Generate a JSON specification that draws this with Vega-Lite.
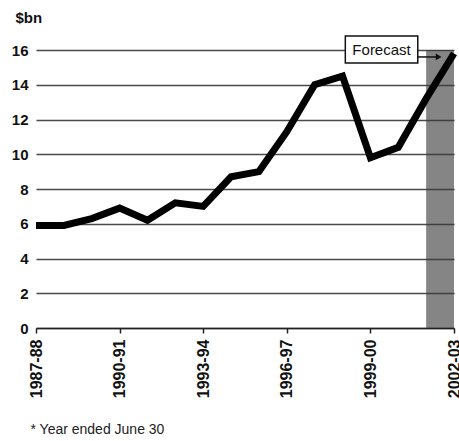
{
  "$schema": "https://vega.github.io/schema/vega-lite/v6.json",
  "autosize": "none",
  "width": 418,
  "height": 278,
  "padding": {"left": 36, "top": 50, "right": 5, "bottom": 113},
  "background": "#ffffff",
  "config": {
    "view": {"stroke": null},
    "font": "Liberation Sans, Arial, sans-serif"
  },
  "datasets": {
    "revenue": [
      {"year": 1987, "value": 5.9},
      {"year": 1988, "value": 5.9},
      {"year": 1989, "value": 6.3},
      {"year": 1990, "value": 6.9},
      {"year": 1991, "value": 6.2},
      {"year": 1992, "value": 7.2},
      {"year": 1993, "value": 7.0},
      {"year": 1994, "value": 8.7},
      {"year": 1995, "value": 9.0},
      {"year": 1996, "value": 11.3},
      {"year": 1997, "value": 14.0},
      {"year": 1998, "value": 14.5},
      {"year": 1999, "value": 9.8},
      {"year": 2000, "value": 10.4},
      {"year": 2001, "value": 13.2},
      {"year": 2002, "value": 15.8}
    ],
    "forecast": [{"start": 2001, "end": 2002, "low": 0, "high": 16}],
    "note": [{"x1": 1998.1, "x2": 2000.7, "y1": 15.25, "y2": 16.8, "tx": 1999.4, "ty": 15.98, "ax1": 2000.7, "ax2": 2001.45, "ay": 15.6, "label": "Forecast"}]
  },
  "encoding": {
    "x": {
      "type": "quantitative",
      "scale": {"domain": [1987, 2002], "nice": false, "zero": false},
      "axis": {
        "values": [1987, 1990, 1993, 1996, 1999, 2002],
        "labelExpr": "datum.value + '-' + slice(toString(datum.value + 1), 2)",
        "labelAngle": -90,
        "labelFont": "Liberation Sans, Arial, sans-serif",
        "labelFontWeight": "bold",
        "labelFontSize": 16,
        "labelColor": "#111",
        "labelPadding": 6,
        "labelOverlap": false,
        "labelBound": false,
        "grid": false,
        "domainColor": "#222",
        "domainWidth": 1.5,
        "tickColor": "#222",
        "tickWidth": 1.5,
        "tickSize": 5,
        "title": "* Year ended June 30",
        "titleFont": "Liberation Sans, Arial, sans-serif",
        "titleFontWeight": "normal",
        "titleFontSize": 14,
        "titleColor": "#222",
        "titleAlign": "left",
        "titleBaseline": "alphabetic",
        "titleX": -6,
        "titleY": 105
      }
    },
    "y": {
      "type": "quantitative",
      "scale": {"domain": [0, 16], "nice": false},
      "axis": {
        "values": [0, 2, 4, 6, 8, 10, 12, 14, 16],
        "grid": true,
        "gridColor": "#4a4a4a",
        "gridWidth": 1.3,
        "domain": false,
        "ticks": false,
        "labelOverlap": false,
        "labelFont": "Liberation Sans, Arial, sans-serif",
        "labelFontWeight": "bold",
        "labelFontSize": 15,
        "labelColor": "#111",
        "labelPadding": 8,
        "title": "$bn",
        "titleAngle": 0,
        "titleFont": "Liberation Sans, Arial, sans-serif",
        "titleFontWeight": "bold",
        "titleFontSize": 15,
        "titleColor": "#111",
        "titleAlign": "left",
        "titleBaseline": "alphabetic",
        "titleX": -21,
        "titleY": -28
      }
    }
  },
  "layer": [
    {
      "data": {"name": "forecast"},
      "mark": {"type": "rect", "fill": "#3a3a3a", "opacity": 0.62},
      "encoding": {
        "x": {"field": "start"},
        "x2": {"field": "end"},
        "y": {"field": "low"},
        "y2": {"field": "high"}
      }
    },
    {
      "data": {"name": "revenue"},
      "mark": {"type": "line", "color": "#000000", "strokeWidth": 7, "strokeJoin": "miter", "strokeCap": "butt"},
      "encoding": {
        "x": {"field": "year"},
        "y": {"field": "value"}
      }
    },
    {
      "data": {"name": "note"},
      "mark": {"type": "rule", "color": "#111", "strokeWidth": 1.5},
      "encoding": {
        "x": {"field": "ax1"},
        "x2": {"field": "ax2"},
        "y": {"field": "ay"}
      }
    },
    {
      "data": {"name": "note"},
      "mark": {"type": "point", "shape": "triangle-right", "filled": true, "color": "#111", "size": 45, "opacity": 1},
      "encoding": {
        "x": {"field": "ax2"},
        "y": {"field": "ay"}
      }
    },
    {
      "data": {"name": "note"},
      "mark": {"type": "rect", "fill": "#ffffff", "stroke": "#111", "strokeWidth": 1.5},
      "encoding": {
        "x": {"field": "x1"},
        "x2": {"field": "x2"},
        "y": {"field": "y1"},
        "y2": {"field": "y2"}
      }
    },
    {
      "data": {"name": "note"},
      "mark": {"type": "text", "font": "Liberation Sans, Arial, sans-serif", "fontSize": 15, "color": "#111", "align": "center", "baseline": "middle"},
      "encoding": {
        "x": {"field": "tx"},
        "y": {"field": "ty"},
        "text": {"field": "label"}
      }
    }
  ]
}
